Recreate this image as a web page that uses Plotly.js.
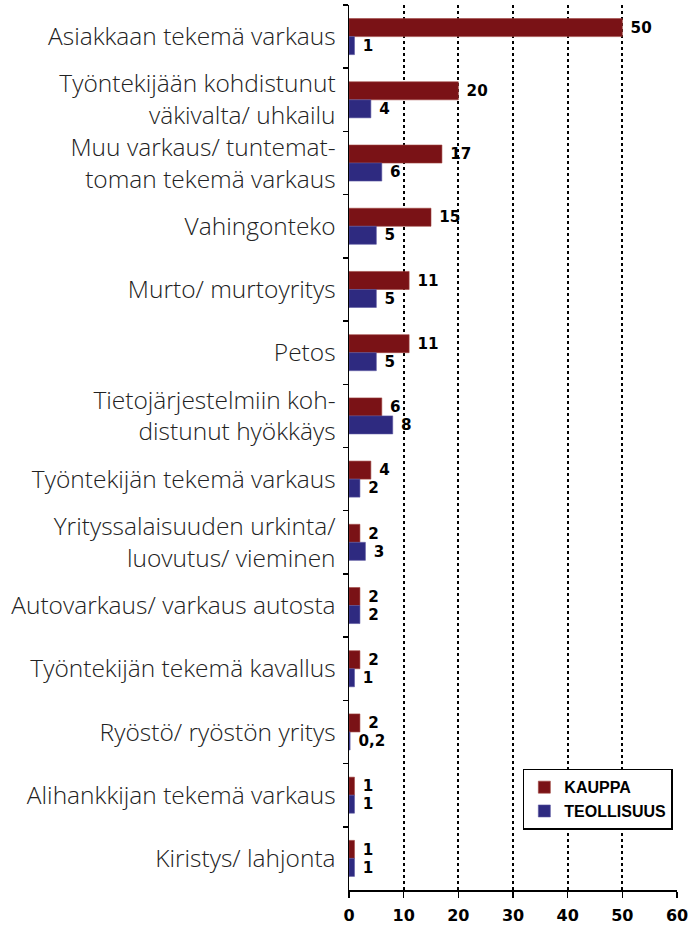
<!DOCTYPE html>
<html>
<head>
<meta charset="utf-8">
<script src="https://cdn.plot.ly/plotly-3.0.1.min.js"></script>
<style>html,body{margin:0;padding:0;background:#fff}#chart{width:689px;height:925px}</style>
</head>
<body>
<div id="chart"></div>
<script>
const categories = [
  "Asiakkaan tekemä varkaus",
  "Työntekijään kohdistunut<br>väkivalta/ uhkailu",
  "Muu varkaus/ tuntemat-<br>toman tekemä varkaus",
  "Vahingonteko",
  "Murto/ murtoyritys",
  "Petos",
  "Tietojärjestelmiin koh-<br>distunut hyökkäys",
  "Työntekijän tekemä varkaus",
  "Yrityssalaisuuden urkinta/<br>luovutus/ vieminen",
  "Autovarkaus/ varkaus autosta",
  "Työntekijän tekemä kavallus",
  "Ryöstö/ ryöstön yritys",
  "Alihankkijan tekemä varkaus",
  "Kiristys/ lahjonta"
];
const kauppa =     [50, 20, 17, 15, 11, 11, 6, 4, 2, 2, 2, 2, 1, 1];
const teollisuus = [1, 4, 6, 5, 5, 5, 8, 2, 3, 2, 1, 0.2, 1, 1];
const xTicks = [0, 10, 20, 30, 40, 50, 60];

const fmt = v => ' ' + String(v).replace('.', ',');
const boldFont = 'DejaVu Sans, Liberation Sans, sans-serif';
const labelFont = {family: boldFont, size: 16, color: '#000', weight: 'bold'};

const traces = [
  {
    type: 'bar', orientation: 'h', name: 'KAUPPA',
    y: categories, x: kauppa, text: kauppa.map(fmt),
    textposition: 'outside', textfont: labelFont, cliponaxis: false,
    marker: {color: '#7a1216', line: {color: '#a0453f', width: 0.6}},
    hoverinfo: 'x+y'
  },
  {
    type: 'bar', orientation: 'h', name: 'TEOLLISUUS',
    y: categories, x: teollisuus, text: teollisuus.map(fmt),
    textposition: 'outside', textfont: labelFont, cliponaxis: false,
    marker: {color: '#2e2a80', line: {color: '#5a56a0', width: 0.6}},
    hoverinfo: 'x+y'
  }
];

const layout = {
  width: 689, height: 925,
  margin: {l: 349, r: 12, t: 5, b: 35},
  paper_bgcolor: '#fff', plot_bgcolor: '#fff',
  barmode: 'group', bargap: 0.43, bargroupgap: 0,
  showlegend: true,
  legend: {
    x: 0.53, y: 0.137, xanchor: 'left', yanchor: 'top',
    bordercolor: '#000', borderwidth: 1.5, bgcolor: '#fff',
    font: {family: 'Liberation Sans, Arial, sans-serif', size: 16, color: '#000', weight: 'bold'},
    traceorder: 'normal', itemwidth: 30, tracegroupgap: 0
  },
  xaxis: {
    range: [0, 60], tickvals: xTicks, ticktext: xTicks.map(String),
    showgrid: true, gridcolor: '#000', griddash: 'dot', gridwidth: 2,
    zeroline: false, showline: true, linecolor: '#000', linewidth: 1.5,
    ticks: 'outside', ticklen: 6, tickcolor: '#000', tickwidth: 1.5,
    ticklabelstandoff: 4,
    tickfont: {family: boldFont, size: 16, color: '#000', weight: 'bold'},
    fixedrange: true
  },
  yaxis: {
    autorange: 'reversed', type: 'category',
    showline: true, linecolor: '#000', linewidth: 1.5,
    showgrid: false, zeroline: false,
    ticks: 'outside', ticklen: 5, tickcolor: '#000', tickwidth: 1.5,
    tickson: 'boundaries', ticklabelstandoff: 7,
    tickfont: {family: 'Open Sans, sans-serif', size: 24.5, color: '#222', weight: 300},
    fixedrange: true
  }
};

Plotly.newPlot('chart', traces, layout, {displayModeBar: false, staticPlot: true});
</script>
</body>
</html>
